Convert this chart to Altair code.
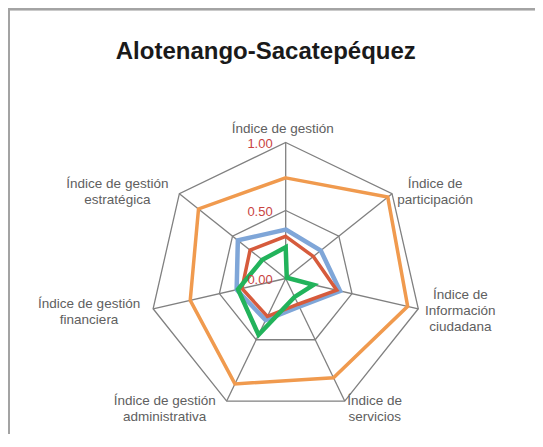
import altair as alt
import pandas as pd

# ---------------- data ----------------
title_text = "Alotenango-Sacatepéquez"
categories = [
    "Índice de gestión",
    "Índice de participación",
    "Índice de Información ciudadana",
    "Índice de servicios",
    "Índice de gestión administrativa",
    "Índice de gestión financiera",
    "Índice de gestión estratégica",
]
axis_labels = [
    "Índice de gestión",
    "Índice de\nparticipación",
    "Índice de\nInformación\nciudadana",
    "Índice de\nservicios",
    "Índice de gestión\nadministrativa",
    "Índice de gestión\nfinanciera",
    "Índice de gestión\nestratégica",
]
series_names = ["Serie 1", "Serie 2", "Serie 3", "Serie 4"]
values_orange = [0.74, 0.96, 0.92, 0.81, 0.86, 0.72, 0.82]
values_blue = [0.36, 0.33, 0.41, 0.23, 0.34, 0.37, 0.45]
values_red = [0.31, 0.26, 0.385, 0.21, 0.31, 0.33, 0.335]
values_green = [0.23, 0.01, 0.21, 0.15, 0.46, 0.36, 0.22]
grid_levels = [0.5, 1.0]
tick_values = [0.0, 0.5, 1.0]
tick_labels = ["0.00", "0.50", "1.00"]

# ---------------- layout / style ----------------
series_colors = ["#F09A4E", "#7FA6D8", "#D65B3C", "#22B35B"]
series_widths = [3.5, 4.5, 3.5, 4.5]
W, H = 521, 420
ORIGIN = 14
CX, CY, R = 285.7 - ORIGIN, 278.5 - ORIGIN, 136.0
x_domain = [-CX / R, (W - CX) / R]
y_domain = [-(H - CY) / R, CY / R]
xs = alt.Scale(domain=x_domain, nice=False, zero=False)
ys = alt.Scale(domain=y_domain, nice=False, zero=False)
N = len(categories)
ANG = f"PI/2 - datum.k*2*PI/{N}"
FONT = "Liberation Sans"
# (dx, dy) of the first text line's centre relative to the outer vertex
label_offsets = [(-3, -14), (43, -9.6), (42, -13.3), (30, 0), (-62, 0), (-64, -4.8), (-62, -9.6)]

# ---------------- tables ----------------
all_series = [values_orange, values_blue, values_red, values_green]
series_dfs = [
    pd.DataFrame({"serie": name, "k": list(range(N)), "categoria": categories, "valor": vals})
    for name, vals in zip(series_names, all_series)
]
grid_df = pd.DataFrame([{"nivel": lv, "k": k} for lv in grid_levels for k in range(N)])
spoke_df = pd.DataFrame({"k": list(range(N)), "categoria": categories, "etiqueta": axis_labels})
tick_df = pd.DataFrame({"valor": tick_values, "texto": tick_labels})

X = lambda f: alt.X(f, scale=xs, axis=None)
Y = lambda f: alt.Y(f, scale=ys, axis=None)

layers = []

# frame (top and left edges)
frame_top = alt.Chart(tick_df).mark_rule(color="#A3A3A3", strokeWidth=2).encode(
    x=alt.value(-5), x2=alt.value(W + 10), y=alt.value(-4.7), y2=alt.value(-4.7)
)
frame_left = alt.Chart(tick_df).mark_rule(color="#A3A3A3", strokeWidth=2).encode(
    x=alt.value(-5), x2=alt.value(-5), y=alt.value(-5.7), y2=alt.value(H + 10)
)
layers += [frame_top, frame_left]

# grid polygons
grid = alt.Chart(grid_df).transform_calculate(ang=ANG).transform_calculate(
    px="datum.nivel*cos(datum.ang)", py="datum.nivel*sin(datum.ang)"
).mark_line(interpolate="linear-closed", color="#808080", strokeWidth=1.3).encode(
    x=X("px:Q"), y=Y("py:Q"), detail="nivel:N", order="k:Q"
)
layers.append(grid)

# spokes
spokes = alt.Chart(spoke_df).transform_calculate(ang=ANG).transform_calculate(
    x0="0", y0="0", ex="cos(datum.ang)", ey="sin(datum.ang)"
).mark_rule(color="#808080", strokeWidth=1.3).encode(
    x=X("x0:Q"), y=Y("y0:Q"), x2="ex:Q", y2="ey:Q"
)
layers.append(spokes)

# series polygons
for df, col, wd in zip(series_dfs, series_colors, series_widths):
    ln = alt.Chart(df).transform_calculate(ang=ANG).transform_calculate(
        px="datum.valor*cos(datum.ang)", py="datum.valor*sin(datum.ang)"
    ).mark_line(interpolate="linear-closed", color=col, strokeWidth=wd, strokeJoin="miter").encode(
        x=X("px:Q"), y=Y("py:Q"), order="k:Q"
    )
    layers.append(ln)

# tick labels
ticks = alt.Chart(tick_df).transform_calculate(x0="0").mark_text(
    align="right", baseline="middle", dx=-13, dy=1, fontSize=13, font=FONT, color="#C9443F"
).encode(x=X("x0:Q"), y=Y("valor:Q"), text="texto:N")
layers.append(ticks)

# category labels
for k, (dx, dy) in enumerate(label_offsets):
    lab = alt.Chart(spoke_df).transform_filter(f"datum.k == {k}").transform_calculate(ang=ANG).transform_calculate(
        ex="cos(datum.ang)", ey="sin(datum.ang)"
    ).mark_text(
        align="center", baseline="middle", dx=dx, dy=dy, lineBreak="\n",
        fontSize=13.5, lineHeight=15.6, font=FONT, color="#606060"
    ).encode(x=X("ex:Q"), y=Y("ey:Q"), text="etiqueta:N")
    layers.append(lab)

# title
title = alt.Chart(pd.DataFrame({"t": [title_text]})).mark_text(
    align="center", baseline="alphabetic", fontSize=24, fontWeight="bold", font=FONT, color="#1a1a1a"
).encode(x=alt.value(265.8 - ORIGIN), y=alt.value(59.3 - ORIGIN), text="t:N")
layers.append(title)

chart = alt.layer(*layers).properties(
    width=W, height=H,
    padding={"left": 6, "top": 6, "right": 0, "bottom": 0},
    autosize=alt.AutoSizeParams(type="none"),
).configure_view(stroke=None)

chart.save("out.html", embed_options={"renderer": "svg", "actions": False})
